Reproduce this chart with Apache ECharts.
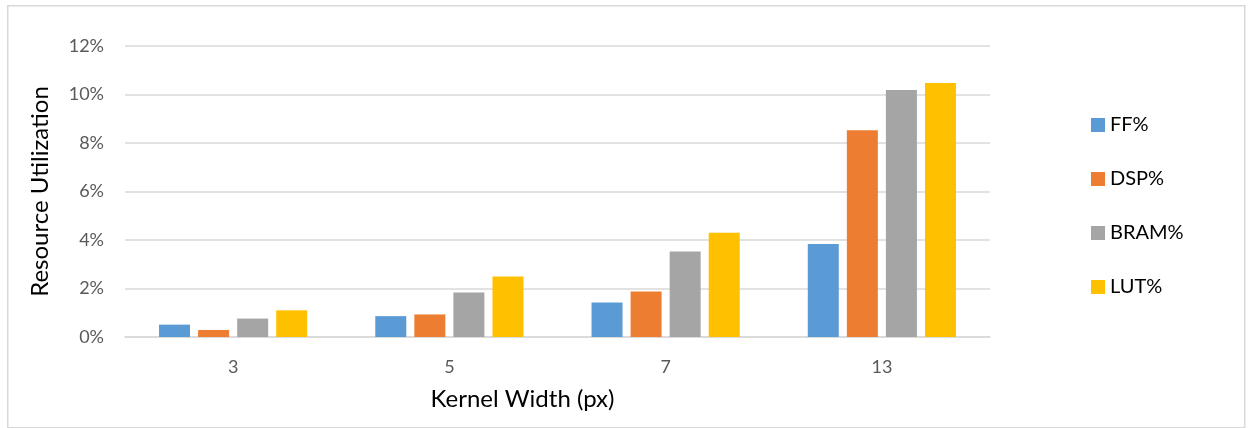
<!DOCTYPE html>
<html><head><meta charset="utf-8">
<script src="https://cdn.jsdelivr.net/npm/echarts@6/dist/echarts.min.js"></script>
<style>html,body{margin:0;padding:0;background:#fff}#c{width:1248px;height:428px}</style>
</head><body><div id="c"></div>
<script>
const categories = ['3', '5', '7', '13'];
const ffPct = [0.51, 0.86, 1.42, 3.84];
const dspPct = [0.29, 0.93, 1.88, 8.53];
const bramPct = [0.76, 1.83, 3.53, 10.19];
const lutPct = [1.10, 2.49, 4.30, 10.47];
const seriesNames = ['FF%', 'DSP%', 'BRAM%', 'LUT%'];
const colors = ['#5B9BD5', '#ED7D31', '#A5A5A5', '#FFC000'];
const font = 'Lato, "Open Sans", sans-serif';

const chart = echarts.init(document.getElementById('c'), null, {renderer: 'canvas'});
const data = [ffPct, dspPct, bramPct, lutPct];
chart.setOption({
  animation: false,
  textStyle: {fontFamily: font},
  graphic: [{
    type: 'rect', left: 7, top: 5, z: -1,
    shape: {width: 1237, height: 422},
    style: {fill: '#fff', stroke: '#d9d9d9', lineWidth: 1.5}
  }],
  grid: {left: 125, right: 258, top: 46, bottom: 91},
  legend: {
    orient: 'vertical', left: 1086, top: 109,
    itemWidth: 14, itemHeight: 14, itemGap: 32,
    icon: 'rect',
    textStyle: {fontSize: 20, lineHeight: 22, color: '#000', fontFamily: font},
    data: seriesNames
  },
  xAxis: {
    type: 'category', data: categories,
    name: 'Kernel Width (px)', nameLocation: 'middle', nameGap: 50,
    nameTextStyle: {fontSize: 24, color: '#000', fontFamily: font, padding: [0, 70, 0, 0]},
    axisLine: {lineStyle: {color: '#d9d9d9', width: 1.5}},
    axisTick: {show: false},
    axisLabel: {fontSize: 18, color: '#595959', margin: 21, fontFamily: font}
  },
  yAxis: {
    type: 'value', min: 0, max: 12, interval: 2,
    name: 'Resource Utilization', nameLocation: 'middle', nameGap: 73, nameRotate: 90,
    nameTextStyle: {fontSize: 24, color: '#000', fontFamily: font},
    axisLine: {show: false}, axisTick: {show: false},
    axisLabel: {fontSize: 18, color: '#595959', margin: 21, formatter: '{value}%', fontFamily: font},
    splitLine: {lineStyle: {color: '#d9d9d9', width: 1.5}}
  },
  series: seriesNames.map((n, i) => ({
    name: n, type: 'bar', data: data[i],
    barWidth: 31, barGap: '26%',
    itemStyle: {color: colors[i]}
  }))
});
</script></body></html>
